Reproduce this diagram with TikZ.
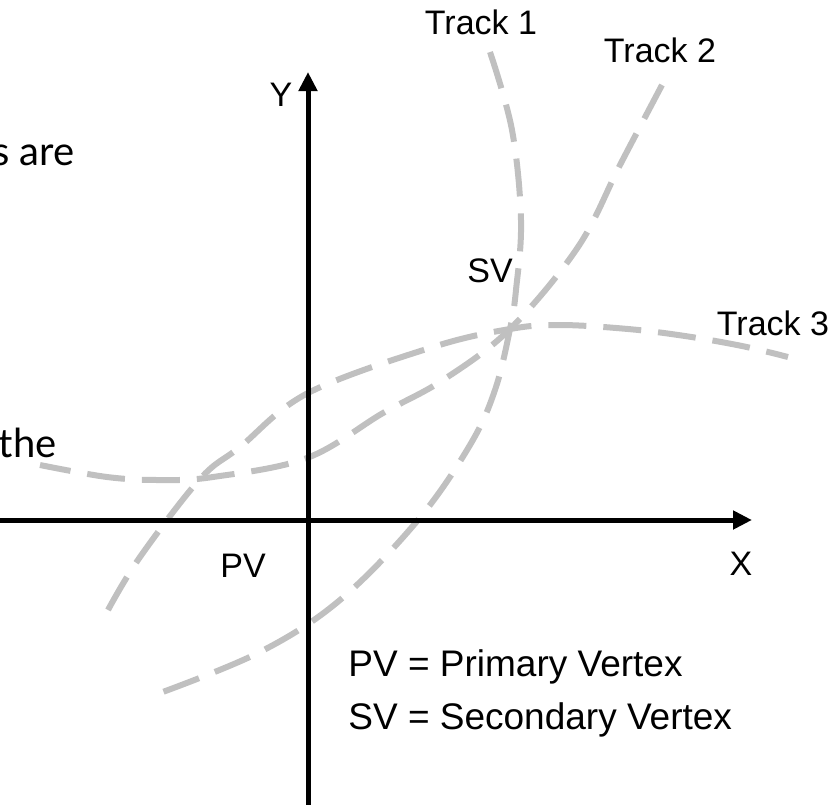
\documentclass[tikz,border=0pt]{standalone}
\usepackage{fontspec}
\setmainfont{Liberation Sans}
\newfontfamily\slidefont{Lato}
\usetikzlibrary{arrows.meta}

\definecolor{trackgray}{RGB}{192,192,192}

\begin{document}
\begin{tikzpicture}[x=0.5pt, y=-0.5pt, font=\fontsize{17}{20}\selectfont,
  axis/.style={line width=2.5pt, -{Triangle[length=9.5pt, width=9pt]}},
  track/.style={draw=trackgray, line width=3pt, dash pattern=on 19pt off 8.5pt},
  lab/.style={inner sep=0pt},
  legend/.style={inner sep=0pt, anchor=west, font=\fontsize{18.5}{22}\selectfont},
  side/.style={font=\slidefont\fontsize{20}{24}\selectfont, inner sep=0pt, anchor=base east}]
\useasboundingbox (0,0) rectangle (832,805);
\clip (0,0) rectangle (832,805);
% axes
\coordinate (xl) at (0,520);
\coordinate (xr) at (752,520);
\coordinate (yb) at (308,805);
\coordinate (yt) at (308,72);
\coordinate (pv) at (200,479);
\coordinate (sv) at (510,329);
% cut-off slide text
\node[side] (cut1) at (75,165) {s are};
\node[side] (cut2) at (57,457) {the};
% tracks
\draw[track] plot[smooth, tension=0.6] coordinates {(490,52) (512,130) (521,220) (516,290) (510,329) (495,390) (470,445) (418,520) (340,600) (260,652) (160,693)};
\draw[track] plot[smooth, tension=0.6] coordinates {(662,85) (620,165) (578,247) (510,329) (443,380) (383,413) (307,458) (213,477) (160,480) (107,477) (40,465)};
\draw[track] plot[smooth, tension=0.6] coordinates {(108,610) (140,557) (200,479) (240,447) (308,393) (433,347) (510,329) (560,325) (628,329) (685,336) (742,346) (788,357)};
\draw[axis] (xl) -- (xr);
\draw[axis] (yb) -- (yt);
% labels
\node[lab] (ylab) at (281,95) {Y};
\node[lab] (xlab) at (741,564) {X};
\node[lab] (pvlab) at (243,566) {PV};
\node[lab] (svlab) at (490,271) {SV};
\node[lab] (t1) at (481,22) {Track 1};
\node[lab] (t2) at (660,50) {Track 2};
\node[lab] (t3) at (773,323) {Track 3};
\node[legend] (leg1) at (348,667) {PV = Primary Vertex};
\node[legend] (leg2) at (348,720) {SV = Secondary Vertex};
\end{tikzpicture}
\end{document}
